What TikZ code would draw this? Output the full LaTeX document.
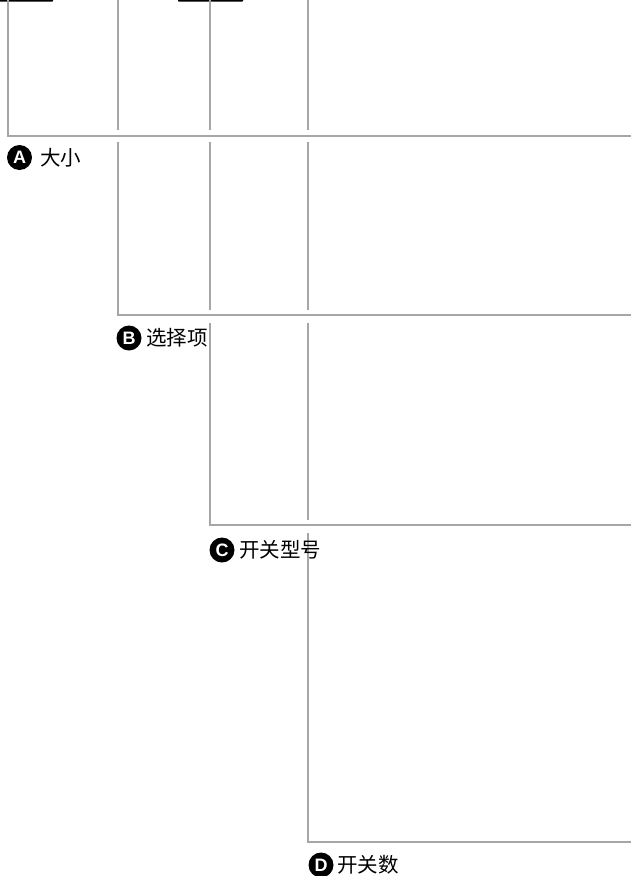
\documentclass[tikz,border=0pt]{standalone}
\usepackage{fontspec}
\newfontfamily\cjk{Noto Sans CJK SC}
\newfontfamily\lab{Liberation Sans}
\definecolor{linegray}{HTML}{A6A6A6}
\begin{document}
\begin{tikzpicture}[x=1pt,y=-1pt,
  rule/.style={draw=linegray, line width=2pt},
  badge/.style={circle, fill=black, text=white, inner sep=0pt, minimum size=25pt,
    font=\lab\bfseries\fontsize{18}{18}\selectfont},
  lbl/.style={anchor=west, inner sep=0pt, font=\cjk\fontsize{20.5}{20.5}\selectfont},
  topbar/.style={fill=black, rounded corners=0.8pt}]
\useasboundingbox (0,0) rectangle (631,876);
\fill[white] (0,0) rectangle (631,876);
% cut-off dark bars at the top edge
\fill[topbar] (-5,-4) rectangle (53,1.6);
\fill[topbar] (178,-4) rectangle (243,1.6);
% named corner points
\coordinate (a0) at (8,0);   \coordinate (a1) at (8,136);  \coordinate (a2) at (631,136);
\coordinate (b0) at (118,0); \coordinate (b1) at (118,130); \coordinate (b2) at (118,142);
\coordinate (b3) at (118,315); \coordinate (b4) at (631,315);
\coordinate (c0) at (210,0); \coordinate (c1) at (210,130); \coordinate (c2) at (210,142);
\coordinate (c3) at (210,310); \coordinate (c4) at (210,323); \coordinate (c5) at (210,525);
\coordinate (c6) at (631,525);
\coordinate (d0) at (308,0); \coordinate (d1) at (308,130); \coordinate (d2) at (308,142);
\coordinate (d3) at (308,310); \coordinate (d4) at (308,323); \coordinate (d5) at (308,520);
\coordinate (d6) at (308,533); \coordinate (d7) at (308,842); \coordinate (d8) at (631,842);
% A
\draw[rule] (a0) -- (a1) -- (a2);
% B
\draw[rule] (b0) -- (b1);
\draw[rule] (b2) -- (b3) -- (b4);
% C
\draw[rule] (c0) -- (c1);
\draw[rule] (c2) -- (c3);
\draw[rule] (c4) -- (c5) -- (c6);
% D
\draw[rule] (d0) -- (d1);
\draw[rule] (d2) -- (d3);
\draw[rule] (d4) -- (d5);
\draw[rule] (d6) -- (d7) -- (d8);
% labels
\node[badge] (ba) at (19.5,157.5) {A};
\node[lbl] (ta) at (40,158) {大小};
\node[badge] (bb) at (129,338) {B};
\node[lbl] (tb) at (146,338) {选择项};
\node[badge] (bc) at (222,550) {C};
\node[lbl] (tc) at (239,550) {开关型号};
\node[badge] (bd) at (321,865) {D};
\node[lbl] (td) at (337,865) {开关数};
\end{tikzpicture}
\end{document}
